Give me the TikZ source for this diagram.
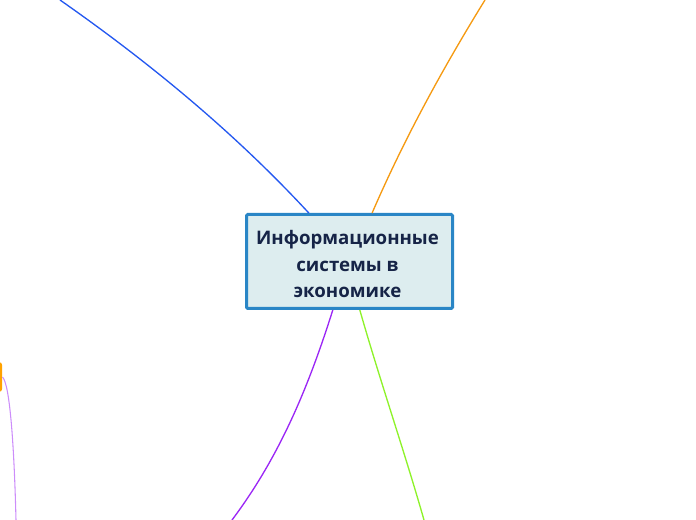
\documentclass[tikz,border=0pt]{standalone}
\usepackage{fontspec}
\setmainfont{Open Sans}
\usetikzlibrary{positioning}

\definecolor{boxline}{HTML}{2A86C6}
\definecolor{boxfill}{HTML}{DDEDEF}
\definecolor{boxtext}{HTML}{162447}
\definecolor{brblue}{HTML}{2458F0}
\definecolor{brorange}{HTML}{F59A12}
\definecolor{brpurple}{HTML}{9B27F5}
\definecolor{brgreen}{HTML}{8EF22A}
\definecolor{brlilac}{HTML}{CC8DFA}
\definecolor{sideorange}{HTML}{FFA200}

\begin{document}
\begin{tikzpicture}[x=0.75pt, y=-0.75pt]
                  \tikzstyle{central}=[draw=boxline, fill=boxfill, line width=2.25pt, rounded corners=1pt,
                    minimum width=154.5pt, minimum height=70.5pt, align=center, text=boxtext,
                    font=\fontsize{14}{20}\selectfont\bfseries, inner sep=0pt]
                  \tikzstyle{branch}=[line width=1pt]
                  \tikzstyle{side}=[fill=sideorange, rounded corners=2.5pt, minimum width=7.5pt,
                    minimum height=22.5pt, inner sep=0pt]

                  \useasboundingbox (0,0) rectangle (696,520);

                  \node[central] (topic) at (349.5,261.5) {};
                  \node[align=center, text=boxtext, font=\fontsize{14}{20}\selectfont\bfseries, inner sep=0pt]
                    (title) at (347.5,264) {Информационные\\системы в\\экономике};
                  \node[side, anchor=east] (left) at (2.5,377) {};

                  \coordinate (endblue) at (60,0);
                  \coordinate (endorange) at (485,0);
                  \coordinate (endpurple) at (232,520);
                  \coordinate (endgreen) at (424,520);
                  \coordinate (endlilac) at (16,520);

                  \draw[branch, brblue] (topic.130.6) .. controls +(-75,-81) and +(90,63) .. (endblue);
                  \draw[branch, brorange] (topic.65.1) .. controls +(32,-74) and +(-42,68) .. (endorange);
                  \draw[branch, brpurple] (topic.251.2) .. controls +(-24,76) and +(48,-64) .. (endpurple);
                  \draw[branch, brgreen] (topic.282.2) .. controls +(20,70) and +(-20,-70) .. (endgreen);
                  \draw[line width=0.8pt, brlilac] (left.east) .. controls +(7,7) and +(-2,-80) .. (endlilac);
                \end{tikzpicture}
\end{document}
